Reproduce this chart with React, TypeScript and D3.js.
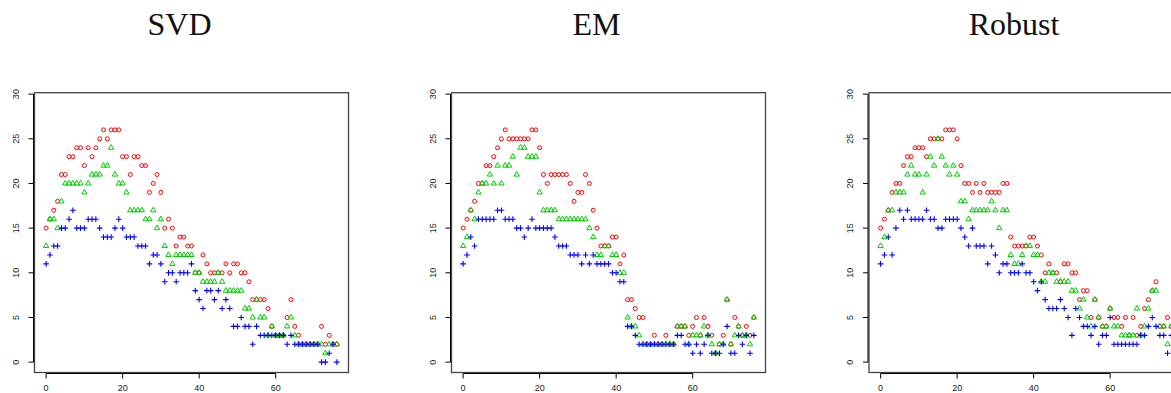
import React from 'react';
import * as d3 from 'd3';

// Panel titles and axis ticks
const titles = ['SVD', 'EM', 'Robust'];
const xTicks = [0, 20, 40, 60];
const yTicks = [0, 5, 10, 15, 20, 25, 30];

// Series values, index 0..76
const svdRed = [15, 16, 17, 18, 21, 21, 23, 23, 24, 24, 22, 24, 23, 24, 25, 26, 25, 26, 26, 26, 23, 23, 21, 23, 23, 22, 22, 19, 20, 21, 19, 15, 16, 15, 13, 14, 14, 13, 13, 10, 10, 12, 11, 10, 10, 10, 10, 11, 10, 11, 11, 10, 10, 9, 7, 7, 7, 7, 6, 4, 3, 3, 3, 5, 7, 4, 3, 2, 2, 2, 2, 2, 4, 2, 3, 2, 2];
const svdGreen = [13, 16, 16, 15, 18, 20, 20, 20, 20, 20, 19, 20, 21, 21, 21, 22, 22, 24, 21, 20, 20, 19, 17, 17, 17, 17, 16, 16, 17, 15, 16, 13, 12, 11, 12, 12, 12, 12, 12, 10, 10, 9, 9, 9, 9, 10, 9, 8, 8, 8, 8, 8, 6, 6, 5, 7, 5, 5, 3, 4, 3, 3, 3, 4, 5, 3, 2, 2, 2, 2, 2, 2, 2, 1, 2, 2, 2];
const svdBlue = [11, 12, 13, 13, 15, 15, 16, 17, 15, 15, 15, 16, 16, 16, 15, 14, 14, 14, 15, 16, 15, 14, 14, 14, 13, 13, 13, 11, 12, 12, 11, 9, 10, 10, 9, 10, 10, 10, 11, 8, 7, 6, 8, 8, 7, 8, 6, 7, 6, 4, 4, 5, 4, 4, 2, 4, 3, 3, 3, 3, 3, 3, 3, 2, 3, 2, 2, 2, 2, 2, 2, 2, 0, 0, 1, 2, 0];

const emRed = [15, 16, 17, 18, 20, 20, 22, 22, 23, 24, 25, 26, 25, 25, 25, 25, 25, 25, 26, 26, 24, 21, 20, 21, 21, 21, 21, 21, 20, 18, 19, 19, 21, 20, 17, 15, 13, 13, 13, 14, 14, 11, 12, 7, 7, 6, 5, 5, 2, 2, 3, 2, 2, 3, 2, 2, 4, 4, 4, 3, 4, 5, 3, 5, 4, 3, 1, 2, 3, 7, 2, 5, 4, 3, 4, 3, 5];
const emGreen = [13, 14, 17, 16, 19, 20, 20, 21, 20, 22, 20, 22, 22, 23, 21, 24, 24, 23, 23, 23, 19, 17, 17, 17, 17, 16, 16, 16, 16, 16, 16, 16, 16, 15, 14, 12, 12, 13, 13, 12, 12, 10, 10, 5, 4, 4, 3, 2, 2, 2, 2, 2, 2, 2, 2, 2, 4, 4, 4, 2, 3, 3, 3, 4, 3, 2, 1, 2, 2, 7, 2, 3, 4, 3, 3, 2, 5];
const emBlue = [11, 12, 14, 13, 16, 16, 16, 16, 16, 17, 17, 16, 16, 16, 15, 15, 14, 15, 16, 15, 15, 15, 15, 15, 14, 13, 13, 13, 12, 12, 12, 11, 12, 11, 12, 11, 11, 11, 11, 10, 10, 9, 9, 4, 4, 3, 2, 2, 2, 2, 2, 2, 2, 2, 2, 2, 3, 3, 2, 2, 1, 2, 1, 2, 3, 1, 1, 1, 2, 4, 1, 1, 3, 2, 3, 1, 3];

const robRed = [15, 16, 17, 19, 20, 20, 22, 23, 23, 24, 24, 24, 23, 25, 25, 25, 25, 26, 26, 26, 25, 22, 20, 20, 19, 20, 19, 20, 19, 19, 19, 19, 20, 20, 14, 13, 13, 13, 13, 14, 14, 13, 12, 10, 11, 10, 10, 9, 11, 11, 10, 10, 7, 8, 8, 5, 7, 5, 4, 4, 6, 5, 5, 4, 5, 3, 5, 3, 4, 6, 7, 8, 9, 4, 4, 5, 4];
const robGreen = [13, 14, 17, 17, 19, 19, 19, 21, 22, 21, 21, 19, 21, 23, 22, 25, 23, 22, 21, 22, 21, 18, 18, 16, 17, 17, 17, 17, 17, 18, 17, 15, 17, 17, 12, 11, 11, 12, 13, 13, 12, 12, 9, 9, 10, 10, 9, 9, 9, 9, 8, 8, 6, 7, 5, 4, 7, 5, 4, 4, 6, 4, 4, 3, 3, 3, 3, 6, 3, 4, 6, 8, 8, 4, 4, 2, 4];
const robBlue = [11, 12, 14, 12, 15, 17, 16, 17, 16, 16, 16, 16, 17, 16, 16, 15, 15, 16, 16, 16, 16, 15, 14, 13, 15, 13, 13, 13, 11, 13, 12, 10, 11, 11, 10, 10, 10, 11, 10, 10, 9, 8, 9, 7, 6, 6, 6, 7, 6, 5, 3, 6, 5, 4, 4, 3, 4, 2, 3, 3, 5, 2, 2, 2, 2, 2, 2, 2, 3, 3, 4, 5, 4, 3, 3, 1, 3];

const panels = [
  { title: titles[0], red: svdRed, green: svdGreen, blue: svdBlue },
  { title: titles[1], red: emRed, green: emGreen, blue: emBlue },
  { title: titles[2], red: robRed, green: robGreen, blue: robBlue },
];

const W = 1171;
const H = 393;
const PANEL_LEFT = [34.5, 451.5, 869];
const PLOT_W = 314;
const PLOT_TOP = 92.7;
const PLOT_BOTTOM = 372.5;

const RED = '#FF0000';
const GREEN = '#00CD00';
const BLUE = '#0000FF';

const R = 2.0; // symbol radius
const TRI_R = R * 1.5551;
const TRI_XC = TRI_R * 0.866;
const TRI_YC = TRI_R * 0.5;
const PLUS = R * 1.4142;

function Panel({ p, left }: { p: typeof panels[number]; left: number }) {
  const n = p.red.length;
  const x = d3.scaleLinear().domain([-0.04 * (n - 1), (n - 1) * 1.04]).range([left, left + PLOT_W]);
  const y = d3.scaleLinear().domain([-1.16, 30.16]).range([PLOT_BOTTOM, PLOT_TOP]);
  const idx = d3.range(n);
  const axX = left - 1;
  const axY = PLOT_BOTTOM + 1;
  const tickFont = { fontFamily: '"Liberation Sans", Arial, sans-serif', fontSize: 9, fill: '#222' };
  return (
    <g>
      <text
        x={left + PLOT_W / 2 - 12}
        y={35}
        textAnchor="middle"
        style={{ fontFamily: '"Liberation Serif", "Times New Roman", serif', fontSize: 32, fill: '#111' }}
      >
        {p.title}
      </text>
      <rect x={left} y={PLOT_TOP} width={PLOT_W} height={PLOT_BOTTOM - PLOT_TOP} fill="none" stroke="#444" strokeWidth={1.3} />
      {/* y axis */}
      <line x1={axX} x2={axX} y1={y(yTicks[0])} y2={y(yTicks[yTicks.length - 1])} stroke="#000" strokeWidth={1} />
      {yTicks.map((t) => (
        <g key={'y' + t}>
          <line x1={axX - 5} x2={axX} y1={y(t)} y2={y(t)} stroke="#000" strokeWidth={1} />
          <text transform={`translate(${left - 16},${y(t)}) rotate(-90)`} textAnchor="middle" style={tickFont}>
            {t}
          </text>
        </g>
      ))}
      {/* x axis */}
      <line x1={x(xTicks[0])} x2={x(xTicks[xTicks.length - 1])} y1={axY} y2={axY} stroke="#000" strokeWidth={1} />
      {xTicks.map((t) => (
        <g key={'x' + t}>
          <line x1={x(t)} x2={x(t)} y1={axY} y2={axY + 5} stroke="#000" strokeWidth={1} />
          <text x={x(t)} y={390.6} textAnchor="middle" style={tickFont}>
            {t}
          </text>
        </g>
      ))}
      {/* red circles */}
      {idx.map((i) => (
        <circle key={'r' + i} cx={x(i)} cy={y(p.red[i])} r={R} fill="none" stroke={RED} strokeWidth={1} />
      ))}
      {/* green triangles */}
      {idx.map((i) => {
        const cx = x(i);
        const cy = y(p.green[i]);
        const d = `M${cx},${cy - TRI_R}L${cx + TRI_XC},${cy + TRI_YC}L${cx - TRI_XC},${cy + TRI_YC}Z`;
        return <path key={'g' + i} d={d} fill="none" stroke={GREEN} strokeWidth={1} />;
      })}
      {/* blue plus signs */}
      {idx.map((i) => {
        const cx = x(i);
        const cy = y(p.blue[i]);
        const d = `M${cx - PLUS},${cy}H${cx + PLUS}M${cx},${cy - PLUS}V${cy + PLUS}`;
        return <path key={'b' + i} d={d} fill="none" stroke={BLUE} strokeWidth={1.1} />;
      })}
    </g>
  );
}

export default function App() {
  return (
    <svg
      width={W}
      height={H}
      viewBox={`0 0 ${W} ${H}`}
      style={{ position: 'absolute', left: 0, top: 0, background: '#fff' }}
    >
      <rect x={0} y={0} width={W} height={H} fill="#fff" />
      {panels.map((p, i) => (
        <Panel key={p.title} p={p} left={PANEL_LEFT[i]} />
      ))}
    </svg>
  );
}
